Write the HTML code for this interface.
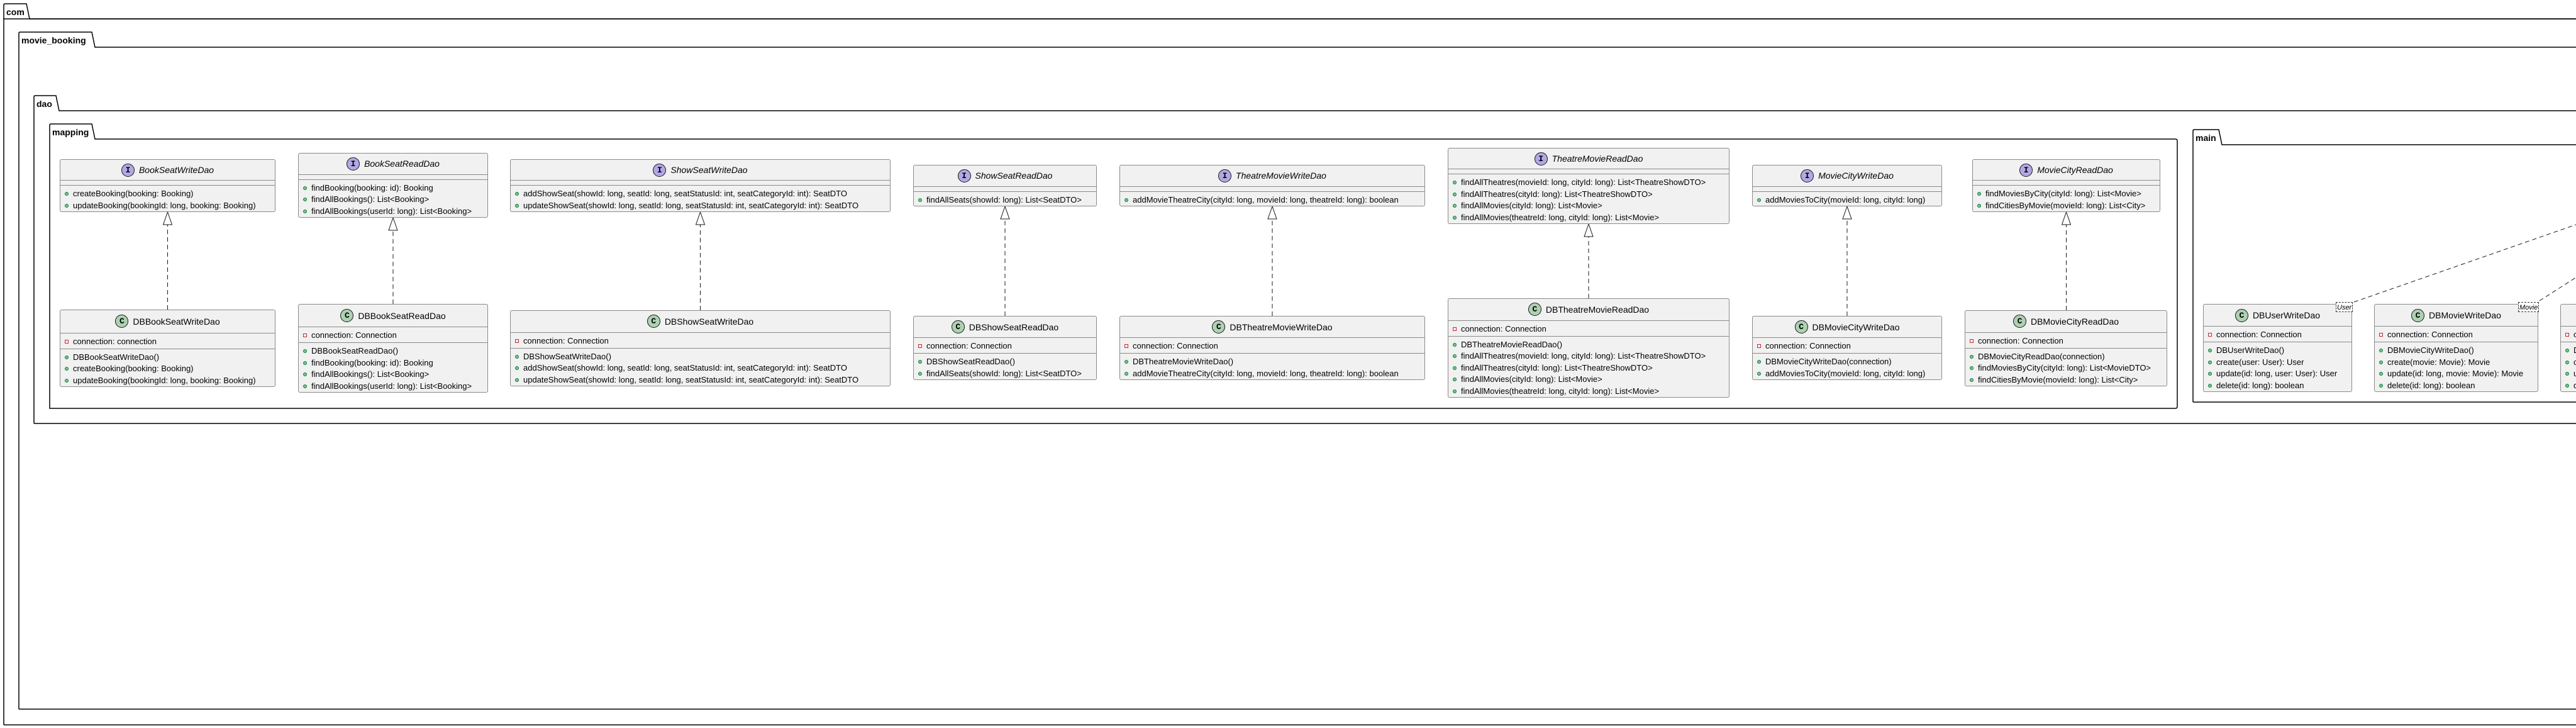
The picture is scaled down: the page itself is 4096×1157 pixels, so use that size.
<!DOCTYPE html>
<html><head><meta charset="utf-8">
<style>
html,body{margin:0;padding:0;background:#fff;width:4096px;height:1157px;overflow:hidden;position:relative}
svg.bg{position:absolute;left:0;top:0}
.b{position:absolute;background:#F1F1F1;border:1px solid #8a8a8a;border-radius:3px;box-sizing:border-box;font:13px "Liberation Sans",sans-serif;color:#000;overflow:hidden;display:flex;flex-direction:column}
.h{flex:1;display:flex;align-items:center;justify-content:center;font-size:14px;white-space:nowrap}
.h i{font-style:italic}
.ic{width:21px;height:21px;border-radius:50%;border:1px solid #181818;display:inline-flex;align-items:center;justify-content:center;font:bold 13px "Liberation Mono",monospace;margin-right:7px;box-sizing:border-box}
.I{background:#B4A7E5}.C{background:#ADD1B2}
.s{border-top:1px solid #8a8a8a;box-sizing:border-box;padding-top:4px;flex:none}
.e{height:8px}
.a{height:25px}
.r{height:18.5px;line-height:18.5px;padding-left:20px;position:relative;white-space:nowrap}
.r::before{content:"";position:absolute;left:7px;top:6px;width:6px;height:6px;border-radius:50%;background:#84BE84;border:1px solid #038048;box-sizing:border-box}
.r.v::before{border-radius:0;background:none;border:1px solid #C82930}
.tag{position:absolute;font:italic 11px "Liberation Sans",sans-serif;border:1px dashed #333;background:#fff;padding:0 1px;height:16px;line-height:16px;box-sizing:border-box}
.pk{font:bold 14px "Liberation Sans",sans-serif}
</style></head><body>
<svg class="bg" width="4096" height="1157" xmlns="http://www.w3.org/2000/svg">
<g fill="none" stroke="#000" stroke-width="1.5">
<path d="M6,1152 V8 Q6,6 8,6 H42 L47,30 H4200"/><path d="M6,1152 H4200"/><path d="M6,30 H4200"/>
<path d="M30,1127 V53 Q30,51 32,51 H146 L151,75 H4200"/><path d="M30,1127 H4200"/>
<path d="M54,673 V154 Q54,152 56,152 H89 L94,176 H4200"/><path d="M54,673 H4200"/>
<path d="M79,649 V199 Q79,197 81,197 H146 L151,221 H3459 Q3462,221 3462,224 V646 Q3462,649 3459,649 Z"/>
<path d="M3487,639 V208 Q3487,206 3489,206 H3528 L3533,230 H4200"/><path d="M3487,639 H4200"/>
</g>
<g class="pk">
<text x="10" y="24" font-family="Liberation Sans" font-weight="bold" font-size="14">com</text>
<text x="34" y="69" font-family="Liberation Sans" font-weight="bold" font-size="14">movie_booking</text>
<text x="58" y="170" font-family="Liberation Sans" font-weight="bold" font-size="14">dao</text>
<text x="83" y="215" font-family="Liberation Sans" font-weight="bold" font-size="14">mapping</text>
<text x="3491" y="224" font-family="Liberation Sans" font-weight="bold" font-size="14">main</text>
</g>
<g stroke="#181818" stroke-width="1" fill="none" stroke-dasharray="7,5">
<path d="M266.5,492 V357"/><path d="M625,483 V366"/><path d="M1113.5,493 V357"/><path d="M1598,502 V348"/>
<path d="M2023,502 V348"/><path d="M2526,474 V376"/><path d="M2937,502 V348"/><path d="M3285.5,493 V357"/>
<path d="M3743,480 L4096,357"/><path d="M4038,478 L4096,441"/>
</g>
<g stroke="#181818" stroke-width="1" fill="#fff">
<path d="M266.5,337 L259.5,357 H273.5 Z"/><path d="M625,346 L618,366 H632 Z"/><path d="M1113.5,337 L1106.5,357 H1120.5 Z"/>
<path d="M1598,328 L1591,348 H1605 Z"/><path d="M2023,328 L2016,348 H2030 Z"/><path d="M2526,356 L2519,376 H2533 Z"/>
<path d="M2937,328 L2930,348 H2944 Z"/><path d="M3285.5,337 L3278.5,357 H3292.5 Z"/>
</g>
</svg>

<!-- interfaces -->
<div class="b" style="left:95px;top:253px;width:343px;height:84px"><div class="h"><span class="ic I">I</span><i>BookSeatWriteDao</i></div><div class="s e"></div><div class="s"><div class="r">createBooking(booking: Booking)</div><div class="r">updateBooking(bookingId: long, booking: Booking)</div></div></div>
<div class="b" style="left:474px;top:243px;width:302px;height:103px"><div class="h"><span class="ic I">I</span><i>BookSeatReadDao</i></div><div class="s e"></div><div class="s"><div class="r">findBooking(booking: id): Booking</div><div class="r">findAllBookings(): List&lt;Booking&gt;</div><div class="r">findAllBookings(userId: long): List&lt;Booking&gt;</div></div></div>
<div class="b" style="left:811px;top:253px;width:605px;height:84px"><div class="h"><span class="ic I">I</span><i>ShowSeatWriteDao</i></div><div class="s e"></div><div class="s"><div class="r">addShowSeat(showId: long, seatId: long, seatStatusId: int, seatCategoryId: int): SeatDTO</div><div class="r">updateShowSeat(showId: long, seatId: long, seatStatusId: int, seatCategoryId: int): SeatDTO</div></div></div>
<div class="b" style="left:1452px;top:262px;width:292px;height:66px"><div class="h"><span class="ic I">I</span><i>ShowSeatReadDao</i></div><div class="s e"></div><div class="s"><div class="r">findAllSeats(showId: long): List&lt;SeatDTO&gt;</div></div></div>
<div class="b" style="left:1780px;top:262px;width:486px;height:66px"><div class="h"><span class="ic I">I</span><i>TheatreMovieWriteDao</i></div><div class="s e"></div><div class="s"><div class="r">addMovieTheatreCity(cityId: long, movieId: long, theatreId: long): boolean</div></div></div>
<div class="b" style="left:2302px;top:235px;width:448px;height:121px"><div class="h"><span class="ic I">I</span><i>TheatreMovieReadDao</i></div><div class="s e"></div><div class="s"><div class="r">findAllTheatres(movieId: long, cityId: long): List&lt;TheatreShowDTO&gt;</div><div class="r">findAllTheatres(cityId: long): List&lt;TheatreShowDTO&gt;</div><div class="r">findAllMovies(cityId: long): List&lt;Movie&gt;</div><div class="r">findAllMovies(theatreId: long, cityId: long): List&lt;Movie&gt;</div></div></div>
<div class="b" style="left:2786px;top:262px;width:302px;height:66px"><div class="h"><span class="ic I">I</span><i>MovieCityWriteDao</i></div><div class="s e"></div><div class="s"><div class="r">addMoviesToCity(movieId: long, cityId: long)</div></div></div>
<div class="b" style="left:3136px;top:253px;width:299px;height:84px"><div class="h"><span class="ic I">I</span><i>MovieCityReadDao</i></div><div class="s e"></div><div class="s"><div class="r">findMoviesByCity(cityId: long): List&lt;Movie&gt;</div><div class="r">findCitiesByMovie(movieId: long): List&lt;City&gt;</div></div></div>

<!-- classes -->
<div class="b" style="left:95px;top:492px;width:343px;height:123px"><div class="h"><span class="ic C">C</span>DBBookSeatWriteDao</div><div class="s a"><div class="r v">connection: connection</div></div><div class="s"><div class="r">DBBookSeatWriteDao()</div><div class="r">createBooking(booking: Booking)</div><div class="r">updateBooking(bookingId: long, booking: Booking)</div></div></div>
<div class="b" style="left:474px;top:483px;width:302px;height:141px"><div class="h"><span class="ic C">C</span>DBBookSeatReadDao</div><div class="s a"><div class="r v">connection: Connection</div></div><div class="s"><div class="r">DBBookSeatReadDao()</div><div class="r">findBooking(booking: id): Booking</div><div class="r">findAllBookings(): List&lt;Booking&gt;</div><div class="r">findAllBookings(userId: long): List&lt;Booking&gt;</div></div></div>
<div class="b" style="left:811px;top:493px;width:605px;height:121px"><div class="h"><span class="ic C">C</span>DBShowSeatWriteDao</div><div class="s a"><div class="r v">connection: Connection</div></div><div class="s"><div class="r">DBShowSeatWriteDao()</div><div class="r">addShowSeat(showId: long, seatId: long, seatStatusId: int, seatCategoryId: int): SeatDTO</div><div class="r">updateShowSeat(showId: long, seatId: long, seatStatusId: int, seatCategoryId: int): SeatDTO</div></div></div>
<div class="b" style="left:1452px;top:502px;width:292px;height:102px"><div class="h"><span class="ic C">C</span>DBShowSeatReadDao</div><div class="s a"><div class="r v">connection: Connection</div></div><div class="s"><div class="r">DBShowSeatReadDao()</div><div class="r">findAllSeats(showId: long): List&lt;SeatDTO&gt;</div></div></div>
<div class="b" style="left:1780px;top:502px;width:486px;height:102px"><div class="h"><span class="ic C">C</span>DBTheatreMovieWriteDao</div><div class="s a"><div class="r v">connection: Connection</div></div><div class="s"><div class="r">DBTheatreMovieWriteDao()</div><div class="r">addMovieTheatreCity(cityId: long, movieId: long, theatreId: long): boolean</div></div></div>
<div class="b" style="left:2302px;top:474px;width:448px;height:158px"><div class="h"><span class="ic C">C</span>DBTheatreMovieReadDao</div><div class="s a"><div class="r v">connection: Connection</div></div><div class="s"><div class="r">DBTheatreMovieReadDao()</div><div class="r">findAllTheatres(movieId: long, cityId: long): List&lt;TheatreShowDTO&gt;</div><div class="r">findAllTheatres(cityId: long): List&lt;TheatreShowDTO&gt;</div><div class="r">findAllMovies(cityId: long): List&lt;Movie&gt;</div><div class="r">findAllMovies(theatreId: long, cityId: long): List&lt;Movie&gt;</div></div></div>
<div class="b" style="left:2786px;top:502px;width:302px;height:102px"><div class="h"><span class="ic C">C</span>DBMovieCityWriteDao</div><div class="s a"><div class="r v">connection: Connection</div></div><div class="s"><div class="r">DBMovieCityWriteDao(connection)</div><div class="r">addMoviesToCity(movieId: long, cityId: long)</div></div></div>
<div class="b" style="left:3124px;top:493px;width:322px;height:121px"><div class="h"><span class="ic C">C</span>DBMovieCityReadDao</div><div class="s a"><div class="r v">connection: Connection</div></div><div class="s"><div class="r">DBMovieCityReadDao(connection)</div><div class="r">findMoviesByCity(cityId: long): List&lt;MovieDTO&gt;</div><div class="r">findCitiesByMovie(movieId: long): List&lt;City&gt;</div></div></div>

<!-- main -->
<div class="b" style="left:3503px;top:483px;width:237px;height:140px"><div class="h"><span class="ic C">C</span>DBUserWriteDao</div><div class="s a"><div class="r v">connection: Connection</div></div><div class="s"><div class="r">DBUserWriteDao()</div><div class="r">create(user: User): User</div><div class="r">update(id: long, user: User): User</div><div class="r">delete(id: long): boolean</div></div></div>
<div class="tag" style="left:3714px;top:480px">User</div>
<div class="b" style="left:3775px;top:483px;width:261px;height:140px"><div class="h"><span class="ic C">C</span>DBMovieWriteDao</div><div class="s a"><div class="r v">connection: Connection</div></div><div class="s"><div class="r">DBMovieCityWriteDao()</div><div class="r">create(movie: Movie): Movie</div><div class="r">update(id: long, movie: Movie): Movie</div><div class="r">delete(id: long): boolean</div></div></div>
<div class="tag" style="left:4004px;top:480px">Movie</div>
<div class="b" style="left:4071px;top:483px;width:260px;height:140px"><div class="h"><span class="ic C">C</span>DBCityWriteDao</div><div class="s a"><div class="r v">connection: Connection</div></div><div class="s"><div class="r">DBCityWriteDao()</div><div class="r">create(city: City): City</div><div class="r">update(id: long, city: City): City</div><div class="r">delete(id: long): boolean</div></div></div>
</body></html>
